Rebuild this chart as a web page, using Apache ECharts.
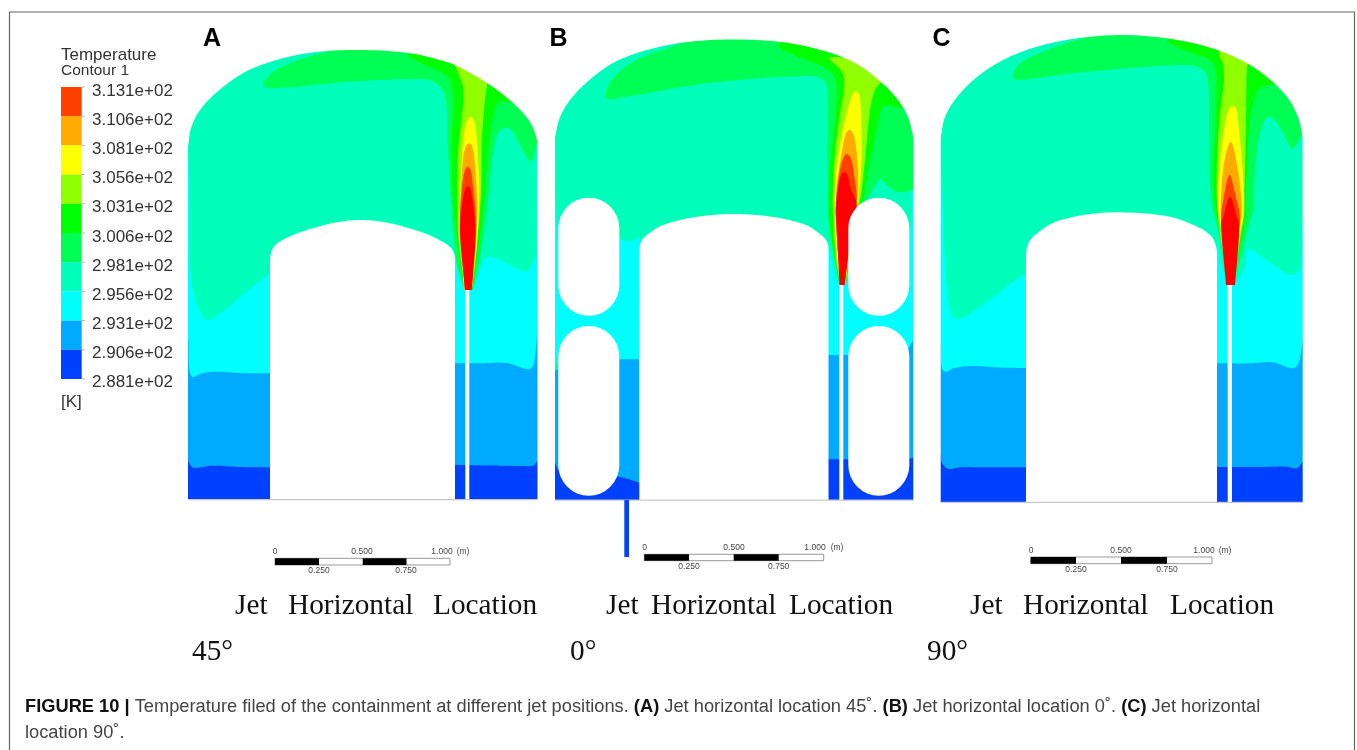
<!DOCTYPE html>
<html><head><meta charset="utf-8">
<style>html,body{margin:0;padding:0;background:#fff}#c{width:1357px;height:750px;filter:blur(.5px)}</style>
<script src="https://cdn.jsdelivr.net/npm/echarts@6/dist/echarts.min.js"></script>
</head><body><div id="c"></div>
<script>
// ---------- legend data ----------
const tickLabels = ['3.131e+02','3.106e+02','3.081e+02','3.056e+02','3.031e+02','3.006e+02','2.981e+02','2.956e+02','2.931e+02','2.906e+02','2.881e+02'];
const bandColors = ['#ff0000','#ff4000','#ffaa00','#ffff00','#90ff00','#00ff00','#00ff55','#00ffbb','#00ffff','#00aaff','#0040ff'];
const legendTitle = ['Temperature','Contour 1'];
const legendUnit = '[K]';
const panelLetters = ['A','B','C'];
const captionWords = ['Jet','Horizontal','Location'];
const angleLabels = ['45°','0°','90°'];
const scaleLabels = ['0','0.500','1.000','(m)','0.250','0.750'];
const captionLine1 = '{b|FIGURE 10 |} Temperature filed of the containment at different jet positions. {b|(A)} Jet horizontal location 45˚. {b|(B)} Jet horizontal location 0˚. {b|(C)} Jet horizontal';
const captionLine2 = 'location 90˚.';

// ---------- contour outlines. Band index -> bandColors; each piece is a smooth run, pieces join straight ----------
const domeA = [[188,147],[191,128],[200,110],[217,92],[245,72],[280,59],[316,52],[362,50],[409,53],[440,60],[457,66],[487,83],[512,102],[530,122],[537,140],[537.5,147]];
const capA = [[270,264],[270.5,255],[273,248],[279,242],[298,233],[333,223],[361,220],[389,223],[424,233],[443,242],[451,248],[454.5,255],[455,264]];
const domeB = [[555,137],[560,117],[570,100],[587,82],[613,63],[647,50],[687,42],[734,39.5],[781,42],[821,50],[855,63],[881,82],[898,100],[908,117],[913.3,137]];
const capB = [[639.3,254],[639.8,246],[642,240],[648,234],[663,225],[697,216.7],[734,214],[772,216.7],[806,225],[820,234],[826,240],[828.2,246],[828.5,254]];
const domeC = [[940.7,137],[945,117],[957,97],[977,77],[1003,60],[1037,46.7],[1077,38.3],[1122,35],[1167,38.3],[1207,46.7],[1241,60],[1267,77],[1287,97],[1298,117],[1302.7,137]];
const capC = [[1026,260],[1026.5,250],[1029,242],[1035,235],[1053,223],[1083,215],[1120,212.3],[1170,216.7],[1200,228],[1211,236],[1215,243],[1216.7,250],[1217,260]];

const regionsA = [
 [8,[[188,145],[189.5,200],[190,260],[192,285],[197,305],[205,319],[210,320],[222,312],[245,293],[270,273]],[[270,385]],[[185,385]],[[185,145]]],
 [8,[[455,250],[461.7,276.7],[465.7,290]],[[471.7,290],[478,276.7],[483,261.7],[488,256.7],[500,260],[513,266.7],[525,271.7],[530,268],[537.7,253]],[[541,253]],[[541,385]],[[455,385]]],
 [9,[[188.5,340],[189.3,370],[192.7,377],[200,374],[213,371.7],[240,373],[270,373.3]],[[270,499.5]],[[185,499.5]],[[185,340]]],
 [9,[[455,363.3],[480,363.3],[506.7,363],[530,369],[535,356.7],[537.5,325]],[[541,325]],[[541,499.5]],[[455,499.5]]],
 [10,[[188,455],[188.7,461.7],[193.3,467.7],[213,465.7],[240,467],[270,467.3]],[[270,499.5]],[[185,499.5]],[[185,455]]],
 [10,[[455,465],[490,465.5],[523,466],[533,465.7],[537.5,461]],[[541,461]],[[541,499.5]],[[455,499.5]]],
 [6,[[463,287],[456,260],[450.7,200],[447.2,133],[445.4,97],[436.7,83.3],[421,79],[350.7,81.7],[270,88.3],[263,83.3],[273.6,71.7],[298,60],[333,50]],[[333,40]],[[545,40]],[[545,143]],[[537,143],[534,155],[530,161],[521.7,148],[513,131.7],[506.7,127.7],[498,133],[493,153],[488,200],[481.7,246.7],[475,280],[472,290]]],
 [5,[[465,289],[460,262],[453,200],[451.7,153],[452.5,88],[445.4,75],[421,63],[408.6,56],[414,50]],[[414,40]],[[545,40]],[[545,100]],[[520,101],[511.7,101.7],[498,103],[493,116.7],[488,153],[483.3,210],[476.7,260],[472.7,290]]],
 [4,[[465,289],[458.5,240],[457.3,200],[458,153],[463.3,100],[463,87],[456,68],[452,60]],[[490,60]],[[488,78],[485,100],[481.7,143],[481,193],[476.7,246.7],[471.8,289]]],
 [3,[[464,290],[460,226.7],[461,176.7],[463,140],[465.5,125],[467.7,120],[470.7,116.7],[473.7,120],[476,130],[477.5,150],[479.3,193],[476.7,246.7],[471.7,290]]],
 [2,[[464.5,290],[460.7,210],[462.8,160],[465.7,146.7],[469,143.3],[472.3,146.7],[474.5,160],[477.3,210],[475,250],[471.7,290]]],
 [1,[[465,290],[460,220],[462,186.7],[465,170],[467.7,166.7],[470.7,170],[473,186.7],[475.7,220],[471.7,290]]],
 [0,[[465,290],[460,233],[461.7,206.7],[465,189.3],[467.7,186],[470.7,189.3],[473.3,206.7],[475.7,233],[471.7,290]]]
];
const regionsB = [
 [8,[[555,137],[556,200],[557.5,240]],[[619,238],[628,241.7],[640,236.7]],[[640,362]],[[553,362]],[[553,137]]],
 [8,[[828,243],[835,273],[839,286]],[[845,284],[848,262]],[[880,262],[909.5,230],[911.5,190],[913,150]],[[916,150]],[[916,362]],[[828,362]]],
 [9,[[553,370]],[[600,370]],[[619,359.3]],[[640,359.3]],[[640,500]],[[553,500]]],
 [9,[[828,355]],[[905,355]],[[913,340]],[[916,340]],[[916,500]],[[828,500]]],
 [10,[[553,458]],[[558,470]],[[619.3,476.7],[628,479],[640,483]],[[640,500]],[[553,500]]],
 [10,[[828,459.3]],[[905,459.3]],[[913,458]],[[916,458]],[[916,500]],[[828,500]]],
 [6,[[840,285],[835,260],[828.3,220],[827.3,170],[827.3,92],[823.3,80],[806.7,76],[706.7,83.3],[611.7,99],[605,97.3],[611.7,80],[633,61.7],[666.7,48.3],[696.7,39]],[[696.7,30]],[[922,30]],[[922,190]],[[914,190],[898,192],[886.7,185],[880,179],[873,190],[866.7,200],[850,240],[845,284]]],
 [5,[[840,285],[835,260],[829.3,220],[830,170],[835,120],[836.7,86.7],[833.3,75],[823.3,66.7],[793.3,55],[778.3,46.7],[780,43]],[[780,30]],[[922,30]],[[922,108]],[[905,108],[900,108],[884,106],[877,127],[868,173],[863,200],[852,240],[846,285]]],
 [4,[[840.7,285],[836,260],[832.7,203.3],[835,153],[840,113],[844.3,85],[841.7,71.7],[829.3,58.3],[835,57],[845,58]],[[845,50]],[[890,50]],[[890,83]],[[880,83],[875,90],[870,110],[865,160],[860,200],[850,240],[845.5,285]]],
 [3,[[841,285],[836.7,253.3],[835,186.7],[840,143.3],[848.3,106.7],[852.3,95],[856,91],[859.3,95],[860.7,106.7],[861.7,153.3],[858.3,200],[853,227],[845,285]]],
 [2,[[841,285],[836.7,233],[836.7,186.7],[841.7,153.3],[845.7,134],[849.3,130],[853.3,134],[856.7,153.3],[858.3,186.7],[856,203],[850,233],[844.7,285]]],
 [1,[[841,285],[837,240],[836,200],[840,170],[843.3,158],[846.7,154],[850.7,158],[853.3,170],[856.7,201.7],[850,233],[844.7,285]]],
 [0,[[839.5,285],[836.7,226.7],[835.7,210],[838.3,186.7],[840.7,175.7],[844,171.7],[847.7,175.7],[850,186.7],[856.7,205],[851.7,233],[844.5,285]]]
];
const regionsC = [
 [8,[[940.7,137],[943.3,220],[946.7,286.7],[951.7,315],[960,319.3],[980,306.7],[1006.7,286.7],[1026,272.3]],[[1026,375]],[[938,375]],[[938,137]]],
 [8,[[1217,236.7],[1221.7,266.7],[1228.3,285]],[[1232.3,285],[1235,283.3],[1245,266.7],[1248.3,249.3],[1273.3,265],[1291.7,275],[1300,266.7],[1302.7,220]],[[1306,220]],[[1306,375]],[[1217,375]]],
 [9,[[941,345],[941.7,368.3],[946,371.7],[953.3,368.3],[970,366],[1000,367.5],[1026,368]],[[1026,502.5]],[[938,502.5]],[[938,345]]],
 [9,[[1217,363.3],[1250,363.3],[1273,362.3],[1293,368.3],[1299,361.7],[1302.7,340]],[[1306,340]],[[1306,502.5]],[[1217,502.5]]],
 [10,[[941,455],[941.7,462.3],[948,469],[960,467.3],[990,467.3],[1026,467.3]],[[1026,502.5]],[[938,502.5]],[[938,455]]],
 [10,[[1217,467],[1260,467],[1286.7,466.7],[1296.7,468.3],[1302.7,461.7]],[[1306,461.7]],[[1306,502.5]],[[1217,502.5]]],
 [6,[[1228.3,285],[1220,236.7],[1211.7,203.3],[1209.3,153.3],[1208.3,83.3],[1203.3,70],[1186.7,65],[1086.7,71.7],[1016.7,80],[1012.3,76.7],[1020,63.3],[1046.7,50],[1076.7,40],[1100,34]],[[1100,25]],[[1315,25]],[[1315,133]],[[1302.7,133.3],[1296.7,143.3],[1291.7,148.3],[1283.3,133.3],[1273.3,118.3],[1266.7,117.7],[1260,133.3],[1255,170],[1253.3,210],[1248.3,226.7],[1241.7,253.3],[1233.3,285]]],
 [5,[[1228.3,285],[1218.3,226.7],[1213.3,186.7],[1215,136.7],[1216.7,86.7],[1215,66.7],[1206.7,58.3],[1183.3,50],[1166.7,40.7],[1170,38]],[[1170,25]],[[1315,25]],[[1315,86]],[[1285,85],[1271.7,85],[1260,88.3],[1255,96.7],[1250,120],[1246,186.7],[1245,220],[1238.3,253.3],[1233.3,285]]],
 [4,[[1228.3,285],[1218.3,220],[1216.7,170],[1220,113.3],[1224,80],[1222.7,63.3],[1219,56]],[[1219,40]],[[1250,40]],[[1250,60]],[[1248,62],[1246.7,70],[1246,120],[1243.3,216.7],[1240,240],[1233.3,285]]],
 [3,[[1228.3,285],[1221.7,233.3],[1217.7,203.3],[1220,160],[1225,123.3],[1228.3,110],[1232.7,105.7],[1236.7,110],[1238.3,123.3],[1242.7,170],[1244,213.3],[1238.3,240],[1232.7,285]]],
 [2,[[1228.3,285],[1221.7,226.7],[1220.7,206.7],[1224,163.3],[1230.7,141.7],[1236.7,163.3],[1241.7,210],[1236.7,240],[1232.7,285]]],
 [1,[[1228.3,285],[1221,220],[1222.7,203.3],[1229.3,175],[1235,193.3],[1240,220],[1236,240],[1232.7,285]]],
 [0,[[1226,285],[1221,223.3],[1223.3,216.7],[1230,196.7],[1236.7,216.7],[1239.3,226.7],[1235,285]]]
];
// body box: left, right, shoulder, bottom; hole: left,right,wallTop; slit: left,right,top
const panels = [
 {body:[188,537.5,147,499.5], top:45, hole:[270,455,253], slit:[465.3,469.3,290], dome:domeA, cap:capA, regions:regionsA, maskL:178, maskR:546},
 {body:[555,913.3,137,500], top:35, hole:[639.3,828.5,243], slit:[839.3,843.3,285], dome:domeB, cap:capB, regions:regionsB, maskL:546, maskR:924},
 {body:[940.7,1302.7,137,502.3], top:30, hole:[1026,1217,250], slit:[1227.7,1232,285], dome:domeC, cap:capC, regions:regionsC, maskL:930, maskR:1315}
];
const capsulesB = [[558.3,197.7,619.3,315.7],[558.3,326,619.3,495.7],[848.3,197.7,909.3,315.7],[848.3,326,909.3,495.7]];
const stripeB = [624.3,500,629,557];
const scaleBars = [
 {x:[275,319,362.7,406.5,450], y:[558.3,565], lab:[275,362,442,463,319,406], top:552, low:571},
 {x:[644.3,689,733.7,778.7,823.7], y:[554.3,560.7], lab:[644.6,734,815,837,689,778.7], top:548, low:567},
 {x:[1030.7,1076,1121,1167,1212], y:[557,563.7], lab:[1031,1121,1204,1225,1076,1167], top:550.7, low:570}
];
const letterPos = [[203,39.5],[549.5,39.5],[932.5,39.5]];
const captionPos = [[[235,288,433],606.5],[[606,651,789],606.5],[[970,1023,1170],606.5]];
const anglePos = [[192,652],[570,652],[927,652]];

// ---------- display list ----------
const items = [];
items.push({k:'frame', r:[9.5,12,1354.5,760]});
panels.forEach(function(p){
  const b=p.body;
  items.push({k:'rect', c:bandColors[7], r:[b[0],p.top,b[1],b[3]]});
  p.regions.forEach(function(reg){ items.push({k:'poly', c:bandColors[reg[0]], pieces:reg.slice(1)}); });
  // white surround, cut along the wall and dome
  items.push({k:'poly', c:'#ffffff', pieces:[[[p.maskL,515]],[[p.maskL,20]],[[p.maskR,20]],[[p.maskR,515]],[[b[1],515]],[[b[1],b[2]]],p.dome.slice().reverse(),[[b[0],b[2]]],[[b[0],515]]]});
  items.push({k:'rect', c:'#ffffff', r:[p.maskL,b[3],p.maskR,515]});
  // hole and jet slit
  items.push({k:'poly', c:'#ffffff', pieces:[p.cap,[[p.hole[1],b[3]]],[[p.hole[0],b[3]]]]});
  items.push({k:'rect', c:'#ffffff', r:[p.slit[0],p.slit[2],p.slit[1],b[3]]});
  items.push({k:'rect', c:'#c8c8c8', r:[b[0],b[3]-.6,b[1],b[3]+.8]});
});
capsulesB.forEach(function(r){ items.push({k:'cap', r:r}); });
items.push({k:'rect', c:bandColors[10], r:stripeB});
// legend
const legX=[61,81.7], legTop=87, legStep=29.2;
bandColors.slice(1).forEach(function(c,i){ items.push({k:'rect', c:c, r:[legX[0],legTop+i*legStep,legX[1],legTop+(i+1)*legStep]}); });
tickLabels.forEach(function(t,i){
  items.push({k:'rect', c:'#aaaaaa', r:[legX[1],legTop+i*legStep-.5,legX[1]+3,legTop+i*legStep+.5]});
  items.push({k:'text', t:t, x:92, y:91.4+i*29.1, font:'17px "Liberation Sans"', c:'#333333'});
});
items.push({k:'text', t:legendTitle[0], x:61, y:55, font:'17px "Liberation Sans"', c:'#333333'});
items.push({k:'text', t:legendTitle[1], x:61, y:70.5, font:'15.5px "Liberation Sans"', c:'#333333'});
items.push({k:'text', t:legendUnit, x:61, y:402, font:'17px "Liberation Sans"', c:'#333333'});
panelLetters.forEach(function(t,i){ items.push({k:'text', t:t, x:letterPos[i][0], y:letterPos[i][1], font:'bold 25px "Liberation Sans"', c:'#000000'}); });
captionPos.forEach(function(cp){ captionWords.forEach(function(w,j){ items.push({k:'text', t:w, x:cp[0][j], y:cp[1], font:'29.3px "Liberation Serif"', c:'#111111'}); }); });
angleLabels.forEach(function(t,i){ items.push({k:'text', t:t, x:anglePos[i][0], y:anglePos[i][1], font:'29.3px "Liberation Serif"', c:'#111111'}); });
scaleBars.forEach(function(s){
  items.push({k:'rect', c:'#ffffff', r:[s.x[0],s.y[0],s.x[4],s.y[1]]});
  items.push({k:'stroke', r:[s.x[0],s.y[0],s.x[4],s.y[1]]});
  items.push({k:'rect', c:'#000000', r:[s.x[0],s.y[0],s.x[1],s.y[1]]});
  items.push({k:'rect', c:'#000000', r:[s.x[2],s.y[0],s.x[3],s.y[1]]});
  scaleLabels.forEach(function(t,i){
    items.push({k:'text', t:t, x:s.lab[i], y:i<4?s.top:s.low, align:'center', font:'8.5px "Liberation Sans"', c:'#444444'});
  });
});
items.push({k:'text', t:captionLine1, x:25, y:707.2, font:'18.28px "Liberation Sans"', c:'#444444', rich:{b:{font:'bold 18.28px "Liberation Sans"',fill:'#111111'}}});
items.push({k:'text', t:captionLine2, x:25, y:733, font:'18.28px "Liberation Sans"', c:'#444444'});

// smooth a run of pixel points with a chord-length Hermite curve
function sampleRun(pts){
  if(pts.length<3) return pts;
  const out=[pts[0]], n=pts.length, d=[];
  for(let i=0;i<n-1;i++) d.push(Math.hypot(pts[i+1][0]-pts[i][0],pts[i+1][1]-pts[i][1])||1);
  const tan=function(i,a){
    if(i===0) return (pts[1][a]-pts[0][a])/d[0];
    if(i===n-1) return (pts[n-1][a]-pts[n-2][a])/d[n-2];
    return (pts[i+1][a]-pts[i-1][a])/(d[i]+d[i-1]);
  };
  for(let i=0;i<n-1;i++){
    for(let s=1;s<=10;s++){
      const t=s/10,t2=t*t,t3=t2*t,h=d[i];
      const f=function(a){return (2*t3-3*t2+1)*pts[i][a]+(t3-2*t2+t)*h*tan(i,a)+(-2*t3+3*t2)*pts[i+1][a]+(t3-t2)*h*tan(i+1,a);};
      out.push([f(0),f(1)]);
    }
  }
  return out;
}
function renderItem(params,api){
  const it=items[params.dataIndex];
  const rectOf=function(r){const a=api.coord([r[0],r[1]]),b=api.coord([r[2],r[3]]);return {x:a[0],y:a[1],width:b[0]-a[0],height:b[1]-a[1]};};
  if(it.k==='poly'){
    let pts=[];
    it.pieces.forEach(function(run){ pts=pts.concat(sampleRun(run.map(function(p){return api.coord(p);}))); });
    return {type:'polygon',shape:{points:pts},style:{fill:it.c}};
  }
  if(it.k==='rect') return {type:'rect',shape:rectOf(it.r),style:{fill:it.c}};
  if(it.k==='cap'){const s=rectOf(it.r);s.r=s.width/2;return {type:'rect',shape:s,style:{fill:'#ffffff'}};}
  if(it.k==='stroke') return {type:'rect',shape:rectOf(it.r),style:{fill:'none',stroke:'#999999',lineWidth:1}};
  if(it.k==='frame') return {type:'rect',shape:rectOf(it.r),style:{fill:'none',stroke:'#666666',lineWidth:1.2}};
  const p=api.coord([it.x,it.y]);
  return {type:'text',x:p[0],y:p[1],style:{text:it.t,font:it.font,fill:it.c,align:it.align||'left',verticalAlign:'middle',rich:it.rich}};
}
const chart=echarts.init(document.getElementById('c'),null,{renderer:'canvas'});
chart.setOption({
  animation:false,backgroundColor:'#ffffff',
  grid:{left:0,right:0,top:0,bottom:0},
  xAxis:{type:'value',min:0,max:1357,show:false},
  yAxis:{type:'value',min:0,max:750,inverse:true,show:false},
  series:[{type:'custom',silent:true,clip:false,coordinateSystem:'cartesian2d',renderItem:renderItem,data:items.map(function(_,i){return [i,i];}),encode:{x:0,y:1}}]
});
</script></body></html>
